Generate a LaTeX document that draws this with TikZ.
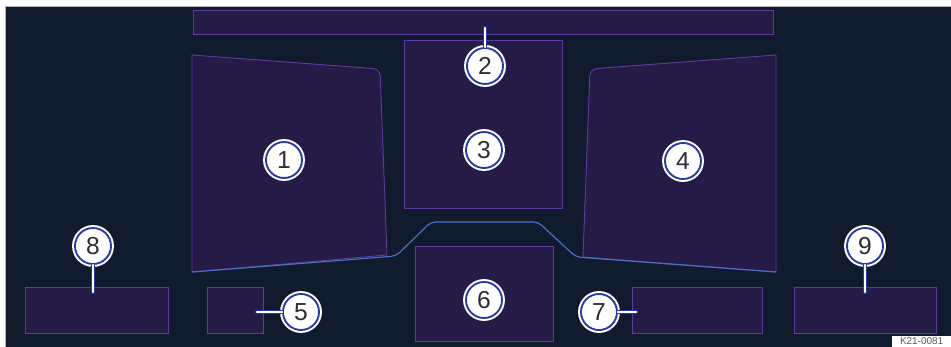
\documentclass[tikz,border=0pt]{standalone}
\usepackage{fontspec}
\setmainfont{Liberation Sans}
\usepackage{tikz}
\usetikzlibrary{positioning}

\definecolor{bgnavy}{RGB}{17,27,46}
\definecolor{panelfill}{RGB}{38,26,70}
\definecolor{paneledge}{RGB}{92,58,160}
\definecolor{lineblue}{RGB}{72,112,196}
\definecolor{ringblue}{RGB}{40,58,168}
\definecolor{digitgrey}{RGB}{45,45,50}

\begin{document}
\begin{tikzpicture}[x=0.03cm, y=-0.03cm,
  font=\fontsize{21}{21}\selectfont,
  panel/.style={draw=paneledge, fill=panelfill, line width=0.8pt},
  callout/.style={circle, fill=white, draw=ringblue, line width=1.6pt,
    minimum size=1.08cm, inner sep=0pt, text=digitgrey,
    preaction={draw=white, line width=5pt}},
  stick/.style={draw=ringblue, line width=0.7pt, double=white,
    double distance=2pt, line cap=round},
  rim/.style={draw=lineblue, line width=1pt, rounded corners=4pt},
]
  \useasboundingbox (0,0) rectangle (951,347);
  \fill[white] (0,0) rectangle (951,347);
  \fill[bgnavy, draw=gray!60] (5,6) rectangle (951,347);

  % Upper row
  \draw[panel] (193,10) rectangle (773,34);
  \draw[panel] (404,40) rectangle (562,208);
  \draw[panel] (192,272) -- (192,55) [rounded corners=6pt] -- (380,69)
    [sharp corners] -- (387,255) -- cycle;
  \draw[panel] (776,272) -- (776,55) [rounded corners=6pt] -- (590,69)
    [sharp corners] -- (583,257) -- cycle;
  \draw[rim] (192,272) -- (396,256) -- (431,222) -- (538,222)
    -- (576,257) -- (776,272);

  % Lower row
  \draw[panel] (25,287) rectangle (168,333);
  \draw[panel] (207,287) rectangle (263,333);
  \draw[panel] (415,246) rectangle (553,341);
  \draw[panel] (632,287) rectangle (762,333);
  \draw[panel] (794,287) rectangle (936,333);

  % Stick ends
  \coordinate (s2) at (485,28);
  \coordinate (s5) at (257,312);
  \coordinate (s7) at (636,312);
  \coordinate (s8) at (93,292);
  \coordinate (s9) at (865,292);

  % Callouts
  \node[callout] (c1) at (284,160) {1};
  \node[callout] (c2) at (485,66) {2};
  \node[callout] (c3) at (484,150) {3};
  \node[callout] (c4) at (683,161) {4};
  \node[callout] (c5) at (301,312) {5};
  \node[callout] (c6) at (484,300) {6};
  \node[callout] (c7) at (599,312) {7};
  \node[callout] (c8) at (93,246) {8};
  \node[callout] (c9) at (865,246) {9};

  \draw[stick] (c2) -- (s2);
  \draw[stick] (c5) -- (s5);
  \draw[stick] (c7) -- (s7);
  \draw[stick] (c8) -- (s8);
  \draw[stick] (c9) -- (s9);

  \node[anchor=south east, fill=white, inner sep=1.5pt, text=gray!70!black,
    font=\fontsize{8.5}{8.5}\selectfont, minimum width=1.75cm] (code) at (951,347) {K21-0081};
\end{tikzpicture}
\end{document}
